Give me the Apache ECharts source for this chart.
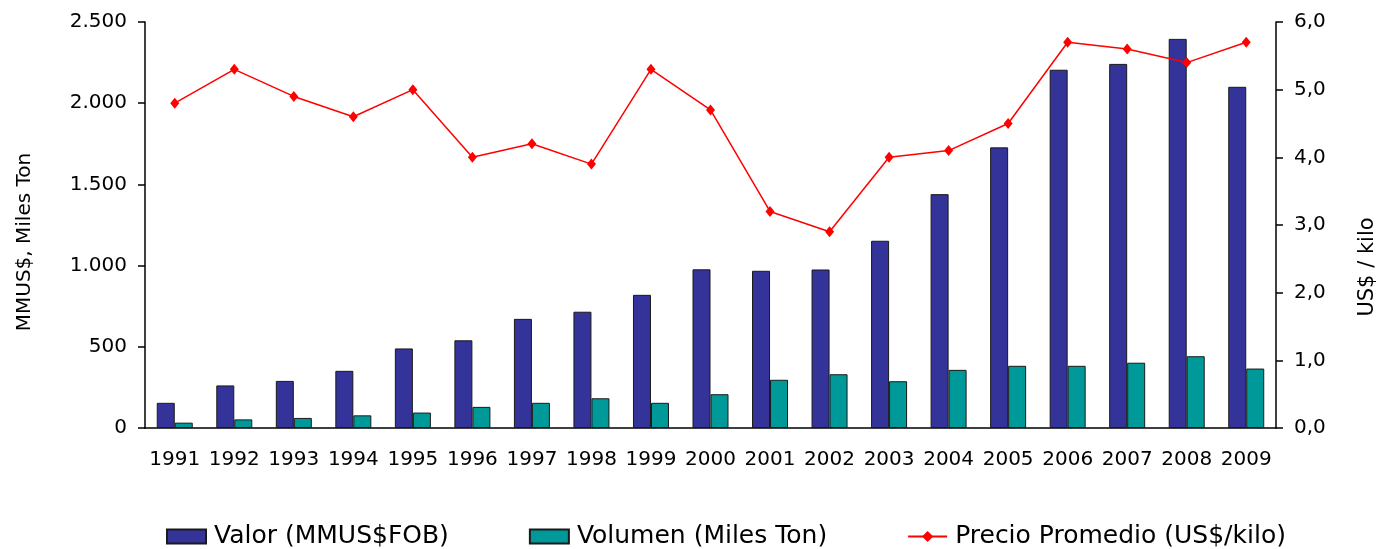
<!DOCTYPE html>
<html>
<head>
<meta charset="utf-8">
<script src="https://cdn.jsdelivr.net/npm/echarts@6/dist/echarts.min.js"></script>
<style>
  html, body { margin: 0; padding: 0; background: #fff; }
  #chart { width: 1379px; height: 549px; }
</style>
</head>
<body>
<div id="chart"></div>
<script>
// years and series
const years = ['1991', '1992', '1993', '1994', '1995', '1996', '1997', '1998', '1999', '2000',
  '2001', '2002', '2003', '2004', '2005', '2006', '2007', '2008', '2009']
const valor = [155, 262, 290, 352, 490, 540, 672, 716, 820, 977, 968, 976, 1153, 1440, 1728, 2206, 2242, 2396, 2101]
const volumen = [33, 53, 62, 78, 95, 130, 155, 183, 155, 208, 297, 331, 288, 358, 383, 383, 402, 442, 366]
const precio = [4.8, 5.3, 4.9, 4.6, 5.0, 4.0, 4.2, 3.9, 5.3, 4.7, 3.2, 2.9, 4.0, 4.1, 4.5, 5.7, 5.6, 5.4, 5.7]

const font = 'DejaVu Sans'
const axisLine = { lineStyle: { color: '#000', width: 1.5 } }
const axisTick = { length: 7, lineStyle: { color: '#000', width: 1.5 } }

const chart = echarts.init(document.getElementById('chart'))
chart.setOption({
  animation: false,
  textStyle: { fontFamily: font, color: '#000' },
  grid: { left: 145, right: 103, top: 22, bottom: 121 },
  legend: {
    left: 166,
    top: 524,
    padding: 0,
    itemWidth: 39,
    itemHeight: 14,
    itemGap: 80,
    textStyle: { fontFamily: font, fontSize: 25, color: '#000', padding: [0, 0, 0, 3] },
    data: [
      { name: 'Valor (MMUS$FOB)', icon: 'rect' },
      { name: 'Volumen (Miles Ton)', icon: 'rect' },
      { name: 'Precio Promedio (US$/kilo)' }
    ]
  },
  // right axis title, placed by hand
  graphic: [
    {
      type: 'text',
      x: 1368,
      y: 267,
      rotation: Math.PI / 2,
      style: {
        text: 'US$ / kilo',
        fontFamily: font,
        fontSize: 21,
        fill: '#000',
        align: 'center',
        verticalAlign: 'middle'
      }
    }
  ],
  xAxis: {
    type: 'category',
    data: years,
    axisLine: axisLine,
    axisTick: axisTick,
    axisLabel: { fontSize: 20, color: '#000', margin: 22, interval: 0 }
  },
  yAxis: [
    {
      type: 'value',
      min: 0,
      max: 2500,
      interval: 500,
      name: 'MMUS$, Miles Ton',
      nameLocation: 'middle',
      nameGap: 110,
      nameRotate: 90,
      nameTextStyle: { fontSize: 20, color: '#000', padding: [0, 34, 0, 0] },
      axisLine: Object.assign({ show: true }, axisLine),
      axisTick: Object.assign({ show: true }, axisTick),
      splitLine: { show: false },
      axisLabel: {
        fontSize: 20,
        color: '#000',
        margin: 18,
        formatter: v => String(v).replace(/\B(?=(\d{3})+(?!\d))/g, '.')
      }
    },
    {
      type: 'value',
      min: 0,
      max: 6,
      interval: 1,
      axisLine: Object.assign({ show: true }, axisLine),
      axisTick: Object.assign({ show: true }, axisTick),
      splitLine: { show: false },
      axisLabel: {
        fontSize: 20,
        color: '#000',
        margin: 18,
        formatter: v => v.toFixed(1).replace('.', ',')
      }
    }
  ],
  series: [
    {
      name: 'Valor (MMUS$FOB)',
      type: 'bar',
      barWidth: 18,
      barGap: '0%',
      itemStyle: { color: '#333399', borderColor: '#1a1a1a', borderWidth: 1 },
      data: valor
    },
    {
      name: 'Volumen (Miles Ton)',
      type: 'bar',
      barWidth: 18,
      itemStyle: { color: '#009999', borderColor: '#1a1a1a', borderWidth: 1 },
      data: volumen
    },
    {
      name: 'Precio Promedio (US$/kilo)',
      type: 'line',
      yAxisIndex: 1,
      symbol: 'diamond',
      symbolSize: [9, 11],
      lineStyle: { color: '#ff0000', width: 1.5 },
      itemStyle: { color: '#ff0000' },
      data: precio
    }
  ]
})
</script>
</body>
</html>
